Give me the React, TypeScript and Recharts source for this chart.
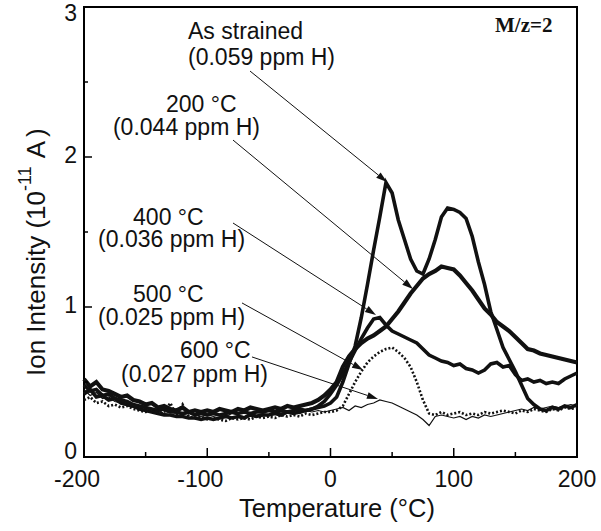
import React from "react";
import { LineChart, Line, XAxis, YAxis, ReferenceArea, ReferenceLine, ReferenceDot } from "recharts";

const FONT = "'Liberation Sans', Arial, Helvetica, sans-serif";
const INK = "#111";

// temperature (°C), step 5
const temps = [
  -200, -195, -190, -185, -180, -175, -170, -165, -160, -155,
  -150, -145, -140, -135, -130, -125, -120, -115, -110, -105,
  -100, -95, -90, -85, -80, -75, -70, -65, -60, -55,
  -50, -45, -40, -35, -30, -25, -20, -15, -10, -5,
  0, 5, 10, 15, 20, 25, 30, 35, 40, 45,
  50, 55, 60, 65, 70, 75, 80, 85, 90, 95,
  100, 105, 110, 115, 120, 125, 130, 135, 140, 145,
  150, 155, 160, 165, 170, 175, 180, 185, 190, 195,
  200,
];

// ion intensity (1e-11 A)
const asStrained = [
  0.48, 0.44, 0.45, 0.41, 0.42, 0.39, 0.38, 0.37, 0.35, 0.34,
  0.33, 0.32, 0.31, 0.32, 0.30, 0.30, 0.29, 0.30, 0.28, 0.29,
  0.28, 0.29, 0.28, 0.29, 0.30, 0.29, 0.30, 0.29, 0.30, 0.30,
  0.31, 0.30, 0.31, 0.30, 0.31, 0.32, 0.31, 0.32, 0.33, 0.34,
  0.36, 0.40, 0.50, 0.62, 0.74, 0.93, 1.15, 1.38, 1.60, 1.83,
  1.76, 1.58, 1.45, 1.32, 1.24, 1.22, 1.32, 1.45, 1.60, 1.66,
  1.65, 1.63, 1.59, 1.47, 1.30, 1.15, 0.97, 0.85, 0.73, 0.65,
  0.57, 0.48, 0.39, 0.35, 0.32, 0.31, 0.33, 0.32, 0.34, 0.33,
  0.35,
];
const ann200 = [
  0.52, 0.47, 0.50, 0.45, 0.44, 0.42, 0.40, 0.41, 0.38, 0.37,
  0.35, 0.36, 0.33, 0.34, 0.32, 0.31, 0.33, 0.30, 0.31, 0.30,
  0.31, 0.30, 0.32, 0.31, 0.30, 0.32, 0.31, 0.33, 0.32, 0.31,
  0.32, 0.33, 0.32, 0.34, 0.33, 0.34, 0.35, 0.36, 0.38, 0.41,
  0.45, 0.50, 0.60, 0.67, 0.72, 0.76, 0.79, 0.81, 0.84, 0.87,
  0.92, 0.97, 1.03, 1.09, 1.14, 1.19, 1.22, 1.24, 1.27, 1.26,
  1.25, 1.21, 1.16, 1.11, 1.05, 0.99, 0.95, 0.90, 0.87, 0.84,
  0.80, 0.76, 0.72, 0.71, 0.69, 0.68, 0.67, 0.66, 0.65, 0.64,
  0.63,
];
const ann400 = [
  0.42, 0.45, 0.40, 0.41, 0.38, 0.39, 0.36, 0.35, 0.34, 0.32,
  0.31, 0.30, 0.29, 0.28, 0.28, 0.27, 0.27, 0.26, 0.26, 0.25,
  0.26, 0.25, 0.26, 0.27, 0.26, 0.27, 0.26, 0.28, 0.27, 0.28,
  0.28, 0.29, 0.28, 0.30, 0.29, 0.30, 0.31, 0.32, 0.34, 0.37,
  0.42, 0.48, 0.55, 0.63, 0.71, 0.79, 0.86, 0.92, 0.93, 0.88,
  0.84, 0.82, 0.80, 0.78, 0.76, 0.72, 0.68, 0.66, 0.64, 0.63,
  0.61, 0.62, 0.59, 0.58, 0.56, 0.58, 0.62, 0.63, 0.60, 0.61,
  0.55, 0.51, 0.52, 0.50, 0.51, 0.49, 0.50, 0.49, 0.52, 0.54,
  0.56,
];
const ann500 = [
  0.38, 0.40, 0.36, 0.37, 0.34, 0.35, 0.33, 0.34, 0.32, 0.31,
  0.30, 0.31, 0.29, 0.30, 0.36, 0.28, 0.35, 0.27, 0.26, 0.27,
  0.25, 0.26, 0.25, 0.24, 0.26, 0.25, 0.26, 0.25, 0.27, 0.26,
  0.27, 0.26, 0.28, 0.27, 0.28, 0.27, 0.29, 0.28, 0.29, 0.30,
  0.30, 0.31, 0.34, 0.42, 0.50, 0.57, 0.63, 0.67, 0.70, 0.72,
  0.73, 0.70, 0.66, 0.60, 0.50, 0.38, 0.29, 0.28, 0.30, 0.28,
  0.29, 0.30, 0.28, 0.29, 0.28, 0.30, 0.29, 0.30, 0.31, 0.30,
  0.29, 0.31, 0.30, 0.32, 0.31, 0.30, 0.32, 0.31, 0.33, 0.32,
  0.33,
];
const ann600 = [
  0.45, 0.41, 0.43, 0.39, 0.40, 0.37, 0.36, 0.34, 0.33, 0.32,
  0.31, 0.30, 0.31, 0.29, 0.30, 0.29, 0.28, 0.29, 0.28, 0.27,
  0.28, 0.27, 0.28, 0.27, 0.29, 0.28, 0.27, 0.29, 0.28, 0.29,
  0.28, 0.29, 0.30, 0.29, 0.30, 0.29, 0.31, 0.30, 0.31, 0.30,
  0.31, 0.32, 0.33, 0.31, 0.34, 0.33, 0.35, 0.36, 0.38, 0.37,
  0.36, 0.34, 0.32, 0.30, 0.28, 0.25, 0.21, 0.27, 0.28, 0.27,
  0.26, 0.27, 0.25, 0.27, 0.26, 0.28, 0.27, 0.28, 0.29, 0.30,
  0.31, 0.32, 0.31, 0.33, 0.32, 0.33, 0.34, 0.33, 0.34, 0.35,
  0.34,
];

const xTicks = [-200, -150, -100, -50, 0, 50, 100, 150, 200];
const yTicks = [0, 0.5, 1, 1.5, 2, 2.5, 3];

// callouts: text lines (start anchor, baseline) and arrow from -> to, in data units
const callouts = [
  { lines: [["As strained", -115.6, 2.787], ["(0.059 ppm H)", -115.6, 2.613]], from: [-65.3, 2.573], to: [45.8, 1.833] },
  { lines: [["200 °C", -133.5, 2.3], ["(0.044 ppm H)", -176.5, 2.147]], from: [-79.1, 2.113], to: [66.9, 1.12] },
  { lines: [["400 °C", -160.2, 1.547], ["(0.036 ppm H)", -188.6, 1.4]], from: [-79.1, 1.56], to: [36.9, 0.947] },
  { lines: [["500 °C", -160.2, 1.033], ["(0.025 ppm H)", -188.6, 0.88]], from: [-71.8, 1.027], to: [26.4, 0.58] },
  { lines: [["600 °C", -122.1, 0.66], ["(0.027 ppm H)", -170, 0.5]], from: [-63.7, 0.667], to: [38.5, 0.387] },
];

const rows = temps.map((t, i) => ({
  t,
  asStrained: asStrained[i],
  ann200: ann200[i],
  ann400: ann400[i],
  ann500: ann500[i],
  ann600: ann600[i],
}));

function XTick(props: any) {
  const { x, y, payload } = props;
  const v = payload.value;
  const major = v % 100 === 0;
  return (
    <g>
      <line x1={x} y1={y} x2={x} y2={y - (major ? 9 : 5)} stroke="#000" strokeWidth={1.5} />
      {major && (
        <text x={x + (v < 0 ? -7 : 0)} y={y + 30} textAnchor="middle" fontSize={23} fontFamily={FONT} fill={INK}>
          {v}
        </text>
      )}
    </g>
  );
}

function YTick(props: any) {
  const { x, y, payload } = props;
  const v = payload.value;
  const major = Number.isInteger(v);
  const dy = v === 0 ? 2 : v === 3 ? 14 : 6;
  return (
    <g>
      <line x1={x} y1={y} x2={x + (major ? 8 : 4)} y2={y} stroke="#000" strokeWidth={1.5} />
      {major && (
        <text x={x - 7} y={y + dy} textAnchor="end" fontSize={23} fontFamily={FONT} fill={INK}>
          {v}
        </text>
      )}
    </g>
  );
}

function Arrow(props: any) {
  const { x1, y1, x2, y2 } = props;
  const dx = x2 - x1;
  const dy = y2 - y1;
  const len = Math.sqrt(dx * dx + dy * dy) || 1;
  const ux = dx / len;
  const uy = dy / len;
  const hl = 11;
  const hw = 3.5;
  const bx = x2 - ux * hl;
  const by = y2 - uy * hl;
  return (
    <g>
      <line x1={x1} y1={y1} x2={bx} y2={by} stroke={INK} strokeWidth={1} />
      <polygon
        points={`${x2},${y2} ${bx - uy * hw},${by + ux * hw} ${bx + uy * hw},${by - ux * hw}`}
        fill={INK}
      />
    </g>
  );
}

export default function App() {
  return (
    <div style={{ position: "absolute", left: 0, top: 0, width: 601, height: 531, background: "#fff" }}>
      <LineChart width={601} height={531} data={rows} margin={{ top: 7, right: 24, bottom: 0, left: 0 }}>
        <XAxis
          dataKey="t" type="number" domain={[-200, 200]} ticks={xTicks} interval={0}
          height={74} axisLine={false} tickLine={false} tickSize={0} tickMargin={0} tick={<XTick />}
        />
        <YAxis
          type="number" domain={[0, 3]} ticks={yTicks} interval={0}
          width={84} axisLine={false} tickLine={false} tickSize={0} tickMargin={0} tick={<YTick />}
        />
        <ReferenceArea x1={-200} x2={200} y1={0} y2={3} fill="none" fillOpacity={0} stroke="#000" strokeWidth={2} />

        {callouts.map((c, i) => (
          <ReferenceLine
            key={`arrow-${i}`}
            segment={[{ x: c.from[0], y: c.from[1] }, { x: c.to[0], y: c.to[1] }]}
            shape={<Arrow />}
          />
        ))}
        {callouts.flatMap((c, i) =>
          c.lines.map((ln, j) => (
            <ReferenceDot
              key={`txt-${i}-${j}`}
              x={ln[1] as number}
              y={ln[2] as number}
              r={0}
              shape={(p: any) => (
                <text x={p.cx} y={p.cy} fontSize={23} fontFamily={FONT} fill={INK}>
                  {ln[0]}
                </text>
              )}
            />
          ))
        )}

        <Line dataKey="ann200" type="linear" stroke={INK} strokeWidth={4.2} dot={false} isAnimationActive={false} />
        <Line dataKey="ann400" type="linear" stroke={INK} strokeWidth={3.6} dot={false} isAnimationActive={false} />
        <Line dataKey="asStrained" type="linear" stroke={INK} strokeWidth={3.6} dot={false} isAnimationActive={false} />
        <Line dataKey="ann500" type="linear" stroke={INK} strokeWidth={2.6} strokeDasharray="2 2" dot={false} isAnimationActive={false} />
        <Line dataKey="ann600" type="linear" stroke={INK} strokeWidth={1.2} dot={false} isAnimationActive={false} />
      </LineChart>

      <svg width={601} height={531} style={{ position: "absolute", left: 0, top: 0, pointerEvents: "none" }}>
        <text x={337} y={517} textAnchor="middle" fontSize={25.5} fontFamily={FONT} fill={INK}>
          Temperature (°C)
        </text>
        <text transform="translate(45,376) rotate(-90)" fontSize={26} fontFamily={FONT} fill={INK}>
          Ion Intensity (10
          <tspan fontSize={18} dy={-14}>-11</tspan>
          <tspan dy={14} dx={8}>A</tspan>
          <tspan dx={4}>)</tspan>
        </text>
        <text x={495} y={31.5} fontSize={21} fontWeight="bold" fontFamily="'Liberation Serif', 'Times New Roman', serif" fill={INK}>
          M/z=2
        </text>
      </svg>
    </div>
  );
}
